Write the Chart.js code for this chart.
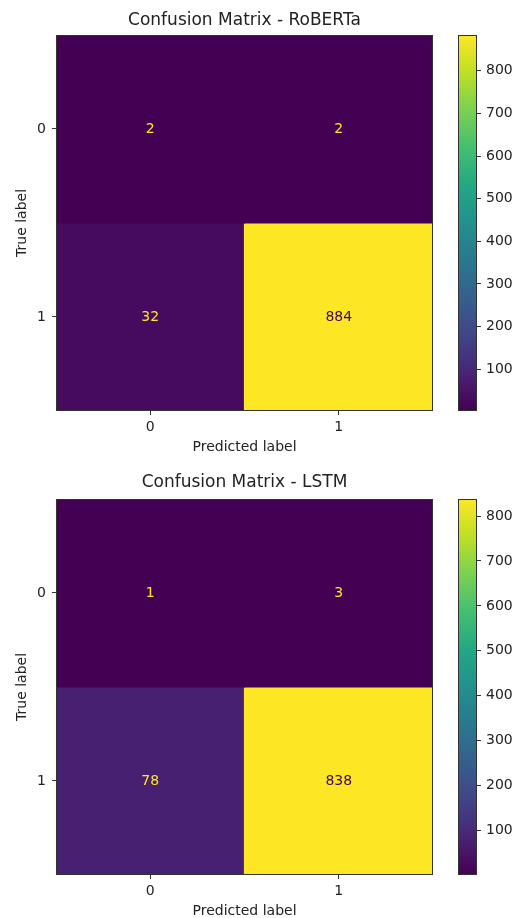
<!DOCTYPE html>
<html>
<head>
<meta charset="utf-8">
<script src="https://cdn.jsdelivr.net/npm/chart.js@4.4.1/dist/chart.umd.min.js"></script>
<style>
  body { margin: 0; background: #fff; width: 522px; height: 918px; position: relative; overflow: hidden; }
  canvas { position: absolute; }
</style>
</head>
<body>
<canvas id="m1" width="445" height="459" style="left:0;top:0"></canvas>
<canvas id="c1" width="77" height="459" style="left:445px;top:0"></canvas>
<canvas id="m2" width="445" height="459" style="left:0;top:459px"></canvas>
<canvas id="c2" width="77" height="459" style="left:445px;top:459px"></canvas>
<script>
// data
const predictedLabels = ["0", "1"];
const trueLabels = ["0", "1"];
const robertaMatrix = [[2, 2], [32, 884]];
const lstmMatrix = [[1, 3], [78, 838]];
const colorbarTicks = [100, 200, 300, 400, 500, 600, 700, 800];

// viridis colormap stops
const viridisStops = [
    [0.0, "#440154"], [0.05, "#471164"], [0.1, "#482475"], [0.2, "#414487"],
    [0.3, "#355f8d"], [0.4, "#2a788e"], [0.5, "#21918c"], [0.6, "#22a884"],
    [0.7, "#44bf70"], [0.8, "#7ad151"], [0.9, "#bddf26"], [1.0, "#fde725"]
];

function hexToRgb(h) {
    return [parseInt(h.slice(1, 3), 16), parseInt(h.slice(3, 5), 16), parseInt(h.slice(5, 7), 16)];
}

function viridis(t) {
    t = Math.max(0, Math.min(1, t));
    // 256-entry lookup like matplotlib
    t = Math.min(Math.floor(t * 256), 255) / 255;
    for (let i = 1; i < viridisStops.length; i++) {
        const [t1, c1] = viridisStops[i];
        const [t0, c0] = viridisStops[i - 1];
        if (t <= t1) {
            const f = (t - t0) / (t1 - t0);
            const a = hexToRgb(c0), b = hexToRgb(c1);
            return "rgb(" + a.map((v, k) => Math.round(v + (b[k] - v) * f)).join(",") + ")";
        }
    }
    return viridisStops[viridisStops.length - 1][1];
}

Chart.defaults.font.family = "'DejaVu Sans', sans-serif";
Chart.defaults.font.size = 14;
Chart.defaults.color = "#222";

const frame = {
    id: "frame",
    afterDraw(chart) {
        const a = chart.chartArea, ctx = chart.ctx;
        ctx.save();
        ctx.strokeStyle = "#333";
        ctx.lineWidth = 1;
        ctx.strokeRect(Math.round(a.left) + 0.5, Math.round(a.top) + 0.5,
            Math.round(a.right - a.left) - 1, Math.round(a.bottom - a.top) - 1);
        ctx.restore();
    }
};

const cellText = {
    id: "cellText",
    afterDatasetsDraw(chart) {
        const ctx = chart.ctx;
        const lo = chart.options.plugins.cellText.lo, hi = chart.options.plugins.cellText.hi;
        ctx.save();
        ctx.font = "14px 'DejaVu Sans', sans-serif";
        ctx.textAlign = "center";
        ctx.textBaseline = "middle";
        chart.data.datasets.forEach((ds, r) => {
            chart.getDatasetMeta(r).data.forEach((bar, c) => {
                const v = ds.values[c];
                const p = bar.getCenterPoint();
                ctx.fillStyle = v > (lo + hi) / 2 ? "#440154" : "#fde725";
                ctx.fillText(String(v), p.x, p.y);
            });
        });
        ctx.restore();
    }
};

function drawMatrix(id, title, matrix, opts) {
    const flat = matrix.flat();
    const lo = Math.min(...flat), hi = Math.max(...flat);
    new Chart(document.getElementById(id), {
        type: "bar",
        data: {
            labels: predictedLabels,
            datasets: matrix.map((row, r) => ({
                data: row.map(() => [r - 0.5, r + 0.5]),
                values: row,
                backgroundColor: row.map(v => viridis((v - lo) / (hi - lo))),
                borderWidth: 0,
                inflateAmount: 0.6,
                grouped: false,
                barPercentage: 1,
                categoryPercentage: 1
            }))
        },
        options: {
            responsive: false,
            animation: false,
            layout: { padding: { left: 0, right: 12, top: 0, bottom: 0 } },
            plugins: {
                legend: { display: false },
                tooltip: { enabled: false },
                title: {
                    display: true,
                    fullSize: false,
                    text: title,
                    color: "#222",
                    font: { size: 17, weight: "normal" },
                    padding: opts.titlePad
                },
                cellText: { lo: lo, hi: hi }
            },
            scales: {
                x: {
                    type: "category",
                    offset: true,
                    grid: { offset: false, drawOnChartArea: false, drawTicks: true, tickLength: 4, tickColor: "#333" },
                    border: { display: false },
                    ticks: { padding: 4, maxRotation: 0 },
                    title: { display: true, text: "Predicted label", font: { lineHeight: 1.0 }, padding: { top: 0, bottom: opts.xTitlePad } },
                    afterFit(s) { s.height = opts.xHeight; }
                },
                y: {
                    type: "linear",
                    min: -0.5,
                    max: 1.5,
                    reverse: true,
                    afterBuildTicks(s) { s.ticks = trueLabels.map((_, i) => ({ value: i })); },
                    grid: { drawOnChartArea: false, drawTicks: true, tickLength: 4, tickColor: "#333" },
                    border: { display: false },
                    ticks: { padding: 6, callback: v => trueLabels[v] },
                    title: { display: true, text: "True label", font: { lineHeight: 1.0 }, padding: { top: 15, bottom: 0 } },
                    afterFit(s) { s.width = 56; }
                }
            }
        },
        plugins: [cellText, frame]
    });
}

function drawColorbar(id, matrix, opts) {
    const flat = matrix.flat();
    const lo = Math.min(...flat), hi = Math.max(...flat);
    new Chart(document.getElementById(id), {
        type: "bar",
        data: {
            labels: [""],
            datasets: [{
                data: [[lo, hi]],
                borderWidth: 0,
                barPercentage: 1,
                categoryPercentage: 1,
                backgroundColor(ctx) {
                    const a = ctx.chart.chartArea;
                    if (!a) return "#440154";
                    const g = ctx.chart.ctx.createLinearGradient(0, a.bottom, 0, a.top);
                    viridisStops.forEach(([t, c]) => g.addColorStop(t, c));
                    return g;
                }
            }]
        },
        options: {
            responsive: false,
            animation: false,
            layout: { padding: { left: 13, right: 0, top: opts.top, bottom: opts.bottom } },
            plugins: { legend: { display: false }, tooltip: { enabled: false } },
            scales: {
                x: { display: false },
                y: {
                    position: "right",
                    min: lo,
                    max: hi,
                    afterBuildTicks(s) { s.ticks = colorbarTicks.map(v => ({ value: v })); },
                    grid: { drawOnChartArea: false, drawTicks: true, tickLength: 4, tickColor: "#333" },
                    border: { display: false },
                    ticks: { padding: 5 },
                    afterFit(s) { s.width = 45; }
                }
            }
        },
        plugins: [frame]
    });
}

drawMatrix("m1", "Confusion Matrix - RoBERTa", robertaMatrix,
    { titlePad: { top: 10.5, bottom: 4 }, xHeight: 48, xTitlePad: 5 });
drawColorbar("c1", robertaMatrix, { top: 35, bottom: 48 });
drawMatrix("m2", "Confusion Matrix - LSTM", lstmMatrix,
    { titlePad: { top: 13.5, bottom: 6 }, xHeight: 43, xTitlePad: 0 });
drawColorbar("c2", lstmMatrix, { top: 40, bottom: 43 });
</script>
</body>
</html>
